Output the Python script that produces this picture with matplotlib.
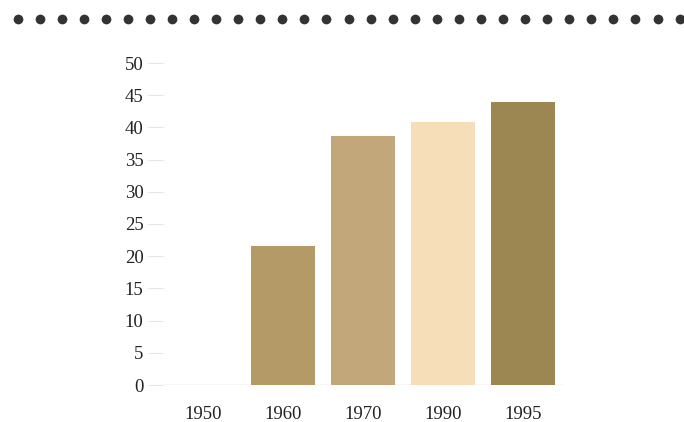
import numpy as np
import matplotlib
matplotlib.use("Agg")
import matplotlib.pyplot as plt

years = ["1950", "1960", "1970", "1990", "1995"]
values = [0, 21.6, 38.7, 40.8, 43.9]
colors = ["#c9a36a", "#b39a66", "#c2a77a", "#f5deb8", "#9c8752"]
yticks = [0, 5, 10, 15, 20, 25, 30, 35, 40, 45, 50]

plt.rcParams["font.family"] = ["Liberation Serif", "DejaVu Serif"]

fig = plt.figure(figsize=(6.84, 4.22), dpi=100)

# dotted rule across the top
top = fig.add_axes([0, 0.9, 1, 0.1])
top.set_xlim(0, 684)
top.set_ylim(0, 42.2)
top.plot(np.arange(17.5, 684, 22.07), np.full(31, 42.2 - 19), "o",
         color="#333333", markersize=7, markeredgewidth=0)
top.axis("off")

ax = fig.add_axes([163 / 684, 37 / 422, 400 / 684, 322 / 422])
x = np.arange(len(years))
ax.bar(x, values, width=0.79, color=colors)
ax.axhline(0, color="#ddd5c8", lw=1, zorder=0)

ax.set_xlim(-0.5, 4.5)
ax.set_ylim(0, 50)
ax.set_xticks(x)
ax.set_xticklabels(years)
ax.set_yticks(yticks)
ax.tick_params(axis="x", length=0, pad=15, labelsize=13.5, colors="#222222")
ax.tick_params(axis="y", length=11, width=0.8, pad=3, labelsize=13.5,
               color="#e6e6e6", labelcolor="#222222")
for s in ax.spines.values():
    s.set_visible(False)

fig.savefig("out.png", dpi=100)
